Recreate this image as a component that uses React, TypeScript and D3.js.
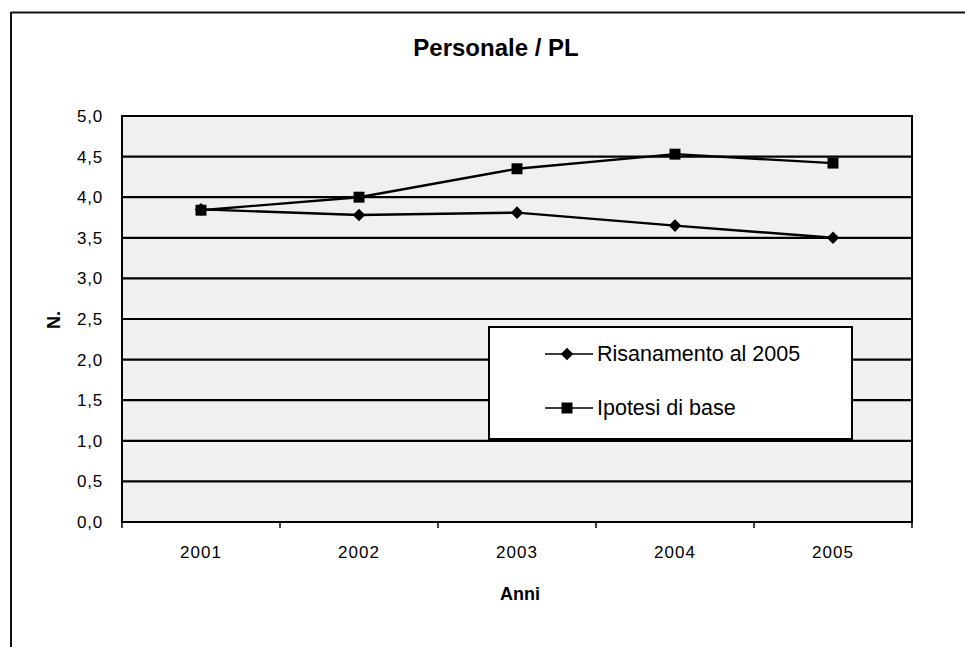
import React, { useEffect, useRef } from "react";
import * as d3 from "d3";

const years = ["2001", "2002", "2003", "2004", "2005"];
const risanamento = [3.85, 3.78, 3.81, 3.65, 3.5];
const ipotesiBase = [3.84, 4.0, 4.35, 4.53, 4.42];
const yTicks = [0, 0.5, 1, 1.5, 2, 2.5, 3, 3.5, 4, 4.5, 5];

const W = 965;
const H = 647;
const plot = { left: 122, right: 912, top: 116, bottom: 522 };
const font = "'Liberation Sans', Arial, sans-serif";

export default function App() {
  const ref = useRef<SVGSVGElement>(null);

  useEffect(() => {
    document.body.style.margin = "0";
    const svg = d3.select(ref.current);
    svg.selectAll("*").remove();

    const x = d3.scaleBand().domain(years).range([plot.left, plot.right]);
    const y = d3.scaleLinear().domain([0, 5]).range([plot.bottom, plot.top]);
    const cx = (d: string) => (x(d) as number) + x.bandwidth() / 2;

    // outer frame (left + top only, as in the scan)
    svg.append("line").attr("x1", 11).attr("x2", W).attr("y1", 12.5).attr("y2", 12.5)
      .attr("stroke", "#111").attr("stroke-width", 2);
    svg.append("line").attr("x1", 11).attr("x2", 11).attr("y1", 12).attr("y2", H)
      .attr("stroke", "#111").attr("stroke-width", 2);

    svg.append("text").attr("x", 496).attr("y", 56).attr("text-anchor", "middle")
      .attr("font-family", font).attr("font-weight", "bold").attr("font-size", 24)
      .text("Personale / PL");

    // plot background
    svg.append("rect").attr("x", plot.left).attr("y", plot.top)
      .attr("width", plot.right - plot.left).attr("height", plot.bottom - plot.top)
      .attr("fill", "#f0f0f0");

    // gridlines
    svg.append("g").selectAll("line").data(yTicks).join("line")
      .attr("x1", plot.left).attr("x2", plot.right)
      .attr("y1", (d) => y(d)).attr("y2", (d) => y(d))
      .attr("stroke", "#000").attr("stroke-width", 2.2);

    svg.append("rect").attr("x", plot.left).attr("y", plot.top)
      .attr("width", plot.right - plot.left).attr("height", plot.bottom - plot.top)
      .attr("fill", "none").attr("stroke", "#000").attr("stroke-width", 2);

    // y axis labels
    svg.append("g").selectAll("text").data(yTicks).join("text")
      .attr("x", 103).attr("y", (d) => y(d) + 6).attr("text-anchor", "end")
      .attr("font-family", font).attr("font-size", 17).attr("letter-spacing", 0.8)
      .text((d) => d3.format(".1f")(d).replace(".", ","));

    svg.append("text").attr("transform", "translate(60,320) rotate(-90)")
      .attr("text-anchor", "middle").attr("font-family", font)
      .attr("font-weight", "bold").attr("font-size", 18).text("N.");

    // x axis ticks at band boundaries
    const bounds = years.map((d) => x(d) as number).concat([plot.right]);
    svg.append("g").selectAll("line").data(bounds).join("line")
      .attr("x1", (d) => d).attr("x2", (d) => d)
      .attr("y1", plot.bottom).attr("y2", plot.bottom + 6)
      .attr("stroke", "#000").attr("stroke-width", 1.5);

    svg.append("g").selectAll("text").data(years).join("text")
      .attr("x", (d) => cx(d)).attr("y", 558).attr("text-anchor", "middle")
      .attr("font-family", font).attr("font-size", 17).attr("letter-spacing", 1)
      .text((d) => d);

    svg.append("text").attr("x", 520).attr("y", 600).attr("text-anchor", "middle")
      .attr("font-family", font).attr("font-weight", "bold").attr("font-size", 18)
      .text("Anni");

    const line = d3.line<number>()
      .x((_, i) => cx(years[i]))
      .y((d) => y(d));

    const diamond = d3.symbol().type(d3.symbolDiamond2).size(100);
    const square = d3.symbol().type(d3.symbolSquare).size(120);

    // Risanamento
    svg.append("path").attr("d", line(risanamento)).attr("fill", "none")
      .attr("stroke", "#000").attr("stroke-width", 2.4);
    svg.append("g").selectAll("path").data(risanamento).join("path")
      .attr("d", diamond()).attr("fill", "#000")
      .attr("transform", (d, i) => `translate(${cx(years[i])},${y(d)})`);

    // Ipotesi di base
    svg.append("path").attr("d", line(ipotesiBase)).attr("fill", "none")
      .attr("stroke", "#000").attr("stroke-width", 2.4);
    svg.append("g").selectAll("path").data(ipotesiBase).join("path")
      .attr("d", square()).attr("fill", "#000")
      .attr("transform", (d, i) => `translate(${cx(years[i])},${y(d)})`);

    // legend
    const lg = svg.append("g");
    lg.append("rect").attr("x", 489).attr("y", 327).attr("width", 363).attr("height", 112)
      .attr("fill", "#fff").attr("stroke", "#000").attr("stroke-width", 2);
    const entries = [
      { label: "Risanamento al 2005", sym: diamond, y: 354 },
      { label: "Ipotesi di base", sym: square, y: 408 },
    ];
    entries.forEach((e) => {
      lg.append("line").attr("x1", 545).attr("x2", 593).attr("y1", e.y).attr("y2", e.y)
        .attr("stroke", "#000").attr("stroke-width", 1.5);
      lg.append("path").attr("d", e.sym()).attr("fill", "#000")
        .attr("transform", `translate(567,${e.y})`);
      lg.append("text").attr("x", 597).attr("y", e.y + 7).attr("font-family", font)
        .attr("font-size", 21.5).text(e.label);
    });
  }, []);

  return <svg ref={ref} width={W} height={H} style={{ display: "block" }} />;
}
